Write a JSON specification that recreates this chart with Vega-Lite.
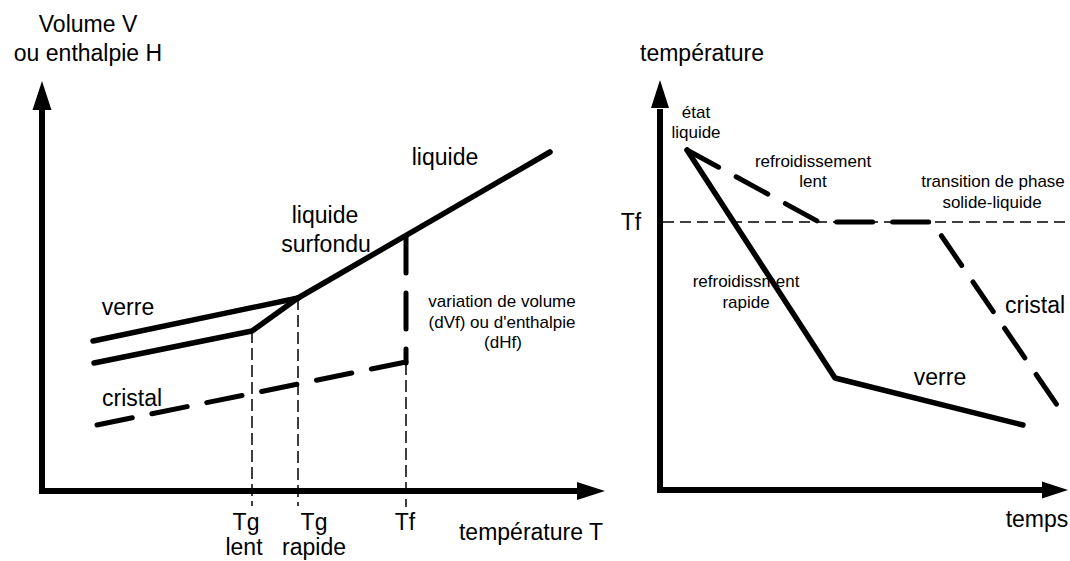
{
  "$schema": "https://vega.github.io/schema/vega-lite/v6.json",
  "background": "white",
  "padding": 0,
  "spacing": 0,
  "bounds": "flush",
  "config": {"view": {"stroke": null}, "text": {"font": "Liberation Sans", "color": "black"}},
  "datasets": {
    "L_solid": [
      {"s": "liquide", "k": 0, "x": 25.6, "y": 19.3},
      {"s": "liquide", "k": 1, "x": 50.8, "y": 33.9},
      {"s": "verre", "k": 0, "x": 5.1, "y": 15.0},
      {"s": "verre", "k": 1, "x": 25.6, "y": 19.3},
      {"s": "lent", "k": 0, "x": 5.2, "y": 12.8},
      {"s": "lent", "k": 1, "x": 21.0, "y": 16.0},
      {"s": "lent", "k": 2, "x": 25.6, "y": 19.3}
    ],
    "L_thick": [
      {"s": "cristal", "k": 0, "x": 5.5, "y": 6.6},
      {"s": "cristal", "k": 1, "x": 36.4, "y": 12.9},
      {"s": "dVf", "k": 0, "x": 36.4, "y": 25.4},
      {"s": "dVf", "k": 1, "x": 36.4, "y": 12.8}
    ],
    "L_thin": [
      {"s": "Tg lent", "k": 0, "x": 21.0, "y": 16.0},
      {"s": "Tg lent", "k": 1, "x": 21.0, "y": -1.5},
      {"s": "Tg rapide", "k": 0, "x": 25.6, "y": 19.3},
      {"s": "Tg rapide", "k": 1, "x": 25.6, "y": -1.5},
      {"s": "Tf", "k": 0, "x": 36.4, "y": 12.8},
      {"s": "Tf", "k": 1, "x": 36.4, "y": -1.6}
    ],
    "L_axes": [
      {"x": 0, "y": 0, "x2": 0, "y2": 37.9},
      {"x": 0, "y": 0, "x2": 53.6, "y2": 0}
    ],
    "L_heads": [
      {"x": 0, "y": 39.55, "dir": "up"},
      {"x": 54.9, "y": 0, "dir": "right"}
    ],
    "L_big": [
      {"t": "Volume V", "x": 4.6, "y": 45.9},
      {"t": "ou enthalpie H", "x": 4.6, "y": 43.0},
      {"t": "verre", "x": 8.6, "y": 17.6},
      {"t": "cristal", "x": 9.0, "y": 8.5},
      {"t": "liquide", "x": 40.3, "y": 32.6},
      {"t": "liquide", "x": 28.3, "y": 26.8},
      {"t": "surfondu", "x": 28.4, "y": 23.9},
      {"t": "Tg", "x": 20.4, "y": -3.9},
      {"t": "lent", "x": 20.2, "y": -6.4},
      {"t": "Tg", "x": 27.2, "y": -3.9},
      {"t": "rapide", "x": 27.2, "y": -6.4},
      {"t": "Tf", "x": 36.3, "y": -3.9},
      {"t": "température T", "x": 48.9, "y": -4.9}
    ],
    "L_small": [
      {"t": "variation de volume", "x": 46.0, "y": 18.4},
      {"t": "(dVf) ou d'enthalpie", "x": 46.0, "y": 16.3},
      {"t": "(dHf)", "x": 46.1, "y": 14.3}
    ],
    "R_solid": [
      {"s": "verre", "k": 0, "x": 2.7, "y": 34.0},
      {"s": "verre", "k": 1, "x": 17.5, "y": 11.2},
      {"s": "verre", "k": 2, "x": 36.3, "y": 6.5}
    ],
    "R_thick": [
      {"s": "cristal", "k": 0, "x": 2.7, "y": 34.0},
      {"s": "cristal", "k": 1, "x": 15.9, "y": 26.8},
      {"s": "cristal", "k": 2, "x": 27.2, "y": 26.8},
      {"s": "cristal", "k": 3, "x": 39.7, "y": 8.5}
    ],
    "R_thin": [
      {"s": "Tf", "k": 0, "x": 0.3, "y": 26.8},
      {"s": "Tf", "k": 1, "x": 40.8, "y": 26.8}
    ],
    "R_axes": [
      {"x": 0, "y": 0, "x2": 0, "y2": 37.8},
      {"x": 0, "y": 0, "x2": 38.3, "y2": 0}
    ],
    "R_heads": [
      {"x": 0, "y": 39.6, "dir": "up"},
      {"x": 39.5, "y": 0, "dir": "right"}
    ],
    "R_big": [
      {"t": "température", "x": 4.2, "y": 42.9},
      {"t": "Tf", "x": -2.9, "y": 26.0},
      {"t": "cristal", "x": 37.5, "y": 17.7},
      {"t": "verre", "x": 28.0, "y": 10.5},
      {"t": "temps", "x": 37.7, "y": -3.7}
    ],
    "R_small": [
      {"t": "état", "x": 3.6, "y": 37.2},
      {"t": "liquide", "x": 3.6, "y": 35.2},
      {"t": "refroidissement", "x": 15.3, "y": 32.3},
      {"t": "lent", "x": 15.3, "y": 30.3},
      {"t": "transition de phase", "x": 33.3, "y": 30.3},
      {"t": "solide-liquide", "x": 33.2, "y": 28.2},
      {"t": "refroidissment", "x": 8.6, "y": 20.3},
      {"t": "rapide", "x": 8.6, "y": 18.2}
    ]
  },
  "hconcat": [
    {
      "width": 620,
      "height": 561,
      "encoding": {
        "x": {"field": "x", "type": "quantitative", "axis": null, "scale": {"domain": [-4.2, 57.8], "nice": false, "zero": false}},
        "y": {"field": "y", "type": "quantitative", "axis": null, "scale": {"domain": [-7.0, 49.1], "nice": false, "zero": false}}
      },
      "layer": [
        {
          "data": {"name": "L_thin"},
          "mark": {"type": "line", "color": "black", "strokeWidth": 1.5, "strokeDash": [12, 5]},
          "encoding": {"detail": {"field": "s"}, "order": {"field": "k"}}
        },
        {
          "data": {"name": "L_thick"},
          "mark": {"type": "line", "color": "black", "strokeWidth": 5, "strokeDash": [36, 20], "strokeCap": "round"},
          "encoding": {"detail": {"field": "s"}, "order": {"field": "k"}}
        },
        {
          "data": {"name": "L_solid"},
          "mark": {"type": "line", "color": "black", "strokeWidth": 5.5, "strokeCap": "round", "strokeJoin": "round"},
          "encoding": {"detail": {"field": "s"}, "order": {"field": "k"}}
        },
        {
          "data": {"name": "L_axes"},
          "mark": {"type": "rule", "color": "black", "strokeWidth": 6, "strokeCap": "square"},
          "encoding": {"x2": {"field": "x2"}, "y2": {"field": "y2"}}
        },
        {
          "data": {"name": "L_heads"},
          "transform": [{"filter": "datum.dir === 'up'"}],
          "mark": {"type": "point", "shape": "M0,-1L0.655,1L-0.655,1Z", "size": 841, "filled": true, "color": "black", "opacity": 1, "strokeWidth": 0}
        },
        {
          "data": {"name": "L_heads"},
          "transform": [{"filter": "datum.dir === 'right'"}],
          "mark": {"type": "point", "shape": "M1,0L-1,0.643L-1,-0.643Z", "size": 784, "filled": true, "color": "black", "opacity": 1, "strokeWidth": 0}
        },
        {
          "data": {"name": "L_big"},
          "mark": {"type": "text", "fontSize": 23, "align": "center", "baseline": "alphabetic"},
          "encoding": {"text": {"field": "t"}}
        },
        {
          "data": {"name": "L_small"},
          "mark": {"type": "text", "fontSize": 17, "align": "center", "baseline": "alphabetic"},
          "encoding": {"text": {"field": "t"}}
        }
      ]
    },
    {
      "width": 450,
      "height": 561,
      "encoding": {
        "x": {"field": "x", "type": "quantitative", "axis": null, "scale": {"domain": [-4.0, 41.0], "nice": false, "zero": false}},
        "y": {"field": "y", "type": "quantitative", "axis": null, "scale": {"domain": [-7.1, 49.0], "nice": false, "zero": false}}
      },
      "layer": [
        {
          "data": {"name": "R_thin"},
          "mark": {"type": "line", "color": "black", "strokeWidth": 1.5, "strokeDash": [11, 6]},
          "encoding": {"detail": {"field": "s"}, "order": {"field": "k"}}
        },
        {
          "data": {"name": "R_thick"},
          "mark": {"type": "line", "color": "black", "strokeWidth": 5, "strokeDash": [36, 20], "strokeCap": "round"},
          "encoding": {"detail": {"field": "s"}, "order": {"field": "k"}}
        },
        {
          "data": {"name": "R_solid"},
          "mark": {"type": "line", "color": "black", "strokeWidth": 5.5, "strokeCap": "round", "strokeJoin": "round"},
          "encoding": {"detail": {"field": "s"}, "order": {"field": "k"}}
        },
        {
          "data": {"name": "R_axes"},
          "mark": {"type": "rule", "color": "black", "strokeWidth": 6, "strokeCap": "square"},
          "encoding": {"x2": {"field": "x2"}, "y2": {"field": "y2"}}
        },
        {
          "data": {"name": "R_heads"},
          "transform": [{"filter": "datum.dir === 'up'"}],
          "mark": {"type": "point", "shape": "M0,-1L0.643,1L-0.643,1Z", "size": 784, "filled": true, "color": "black", "opacity": 1, "strokeWidth": 0}
        },
        {
          "data": {"name": "R_heads"},
          "transform": [{"filter": "datum.dir === 'right'"}],
          "mark": {"type": "point", "shape": "M1,0L-1,0.654L-1,-0.654Z", "size": 676, "filled": true, "color": "black", "opacity": 1, "strokeWidth": 0}
        },
        {
          "data": {"name": "R_big"},
          "mark": {"type": "text", "fontSize": 23, "align": "center", "baseline": "alphabetic"},
          "encoding": {"text": {"field": "t"}}
        },
        {
          "data": {"name": "R_small"},
          "mark": {"type": "text", "fontSize": 17, "align": "center", "baseline": "alphabetic"},
          "encoding": {"text": {"field": "t"}}
        }
      ]
    }
  ]
}
